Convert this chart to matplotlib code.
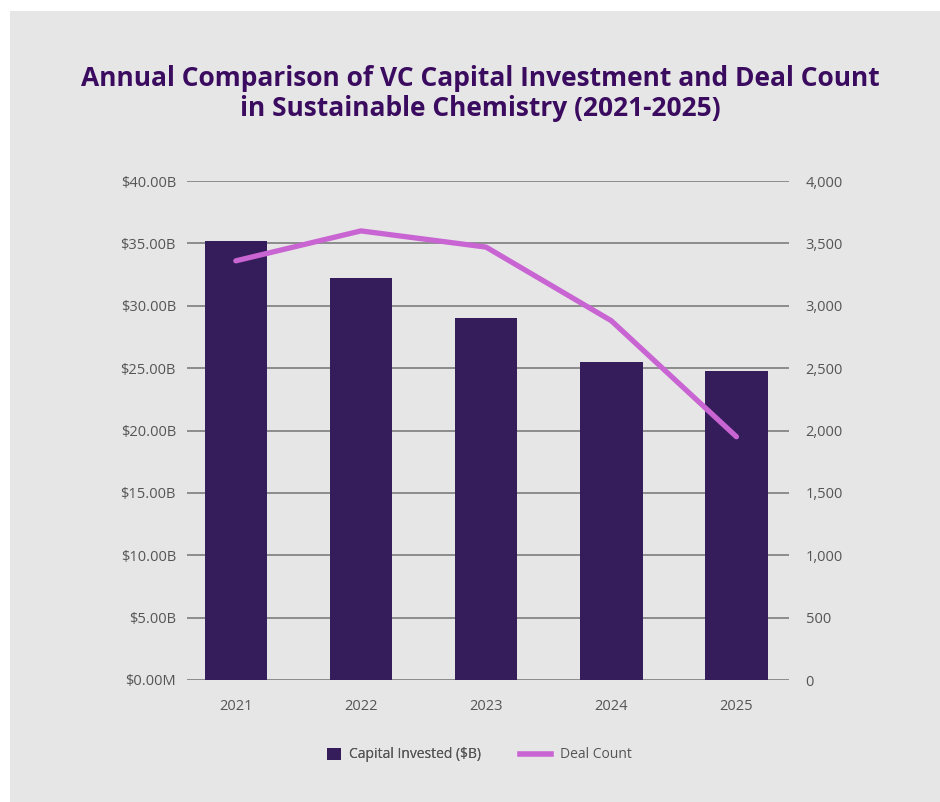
import matplotlib
matplotlib.use("Agg")
import matplotlib.pyplot as plt
from matplotlib.patches import Rectangle
from matplotlib.lines import Line2D
from matplotlib.ticker import FuncFormatter, MultipleLocator

years = ["2021", "2022", "2023", "2024", "2025"]
capital_b = [35.2, 32.2, 29.0, 25.5, 24.8]
deal_count = [3360, 3600, 3470, 2880, 1950]

bar_color = "#341d5a"
line_color = "#c964d3"
text_color = "#555555"
grid_color = "#858585"
bg = "#e6e6e6"

plt.rcParams['font.family'] = ['Open Sans', 'DejaVu Sans']

W, H = 940, 802
fig = plt.figure(figsize=(W/100, H/100), dpi=100, facecolor="white")
fig.patches.append(Rectangle((10/W, 0), 1 - 10/W, 1 - 11/H, transform=fig.transFigure,
                             facecolor=bg, edgecolor="none", zorder=-10))

ax = fig.add_axes([187/W, 1 - 680/H, (789-187)/W, (680-181)/H])
ax.set_facecolor("none")
x = list(range(len(years)))
ax.bar(x, capital_b, width=0.5, color=bar_color, zorder=3)
ax.set_ylim(0, 40)
ax.set_xlim(-0.39, 4.42)
ax.yaxis.set_major_locator(MultipleLocator(5))
ax.yaxis.set_major_formatter(FuncFormatter(lambda v, p: "$0.00M" if v == 0 else f"${v:.2f}B"))
ax.grid(axis="y", color=grid_color, linewidth=1.3, zorder=0)
ax.set_axisbelow(True)
for s in ax.spines.values():
    s.set_visible(False)
ax.tick_params(axis="both", length=0, colors=text_color, labelsize=10.5)
ax.tick_params(axis="y", pad=8)
ax.tick_params(axis="x", pad=14)
ax.set_xticks(x)
ax.set_xticklabels(years)

ax2 = ax.twinx()
ax2.set_ylim(0, 4000)
ax2.yaxis.set_major_locator(MultipleLocator(500))
ax2.yaxis.set_major_formatter(FuncFormatter(lambda v, p: f"{int(v):,}"))
ax2.plot(x, deal_count, color=line_color, linewidth=3.8, solid_capstyle="round",
         solid_joinstyle="round", zorder=4)
for s in ax2.spines.values():
    s.set_visible(False)
ax2.tick_params(axis="y", length=0, colors=text_color, labelsize=10.5, pad=12)

fig.text(480/W, 1 - 78/H, "Annual Comparison of VC Capital Investment and Deal Count",
         ha="center", va="center", fontsize=19, fontweight="bold", color="#3a0b5f")
fig.text(480/W, 1 - 109/H, "in Sustainable Chemistry (2021-2025)",
         ha="center", va="center", fontsize=19, fontweight="bold", color="#3a0b5f")

leg1 = fig.legend([Rectangle((0, 0), 1, 1, facecolor=bar_color, edgecolor="none")],
                  ["Capital Invested ($B)"], loc="center left",
                  bbox_to_anchor=(327/W, 1 - 755/H), frameon=False, fontsize=10,
                  labelcolor=text_color, handlelength=1.0, handleheight=1.0,
                  handletextpad=0.58, borderpad=0, borderaxespad=0)
leg2 = fig.legend([Line2D([0], [0], color=line_color, linewidth=4)],
                  ["Deal Count"], loc="center left",
                  bbox_to_anchor=(520/W, 1 - 755/H), frameon=False, fontsize=10,
                  labelcolor=text_color, handlelength=2.25,
                  handletextpad=0.6, borderpad=0, borderaxespad=0)
fig.add_artist(leg1)

fig.savefig("out.png", dpi=100, facecolor="white")
